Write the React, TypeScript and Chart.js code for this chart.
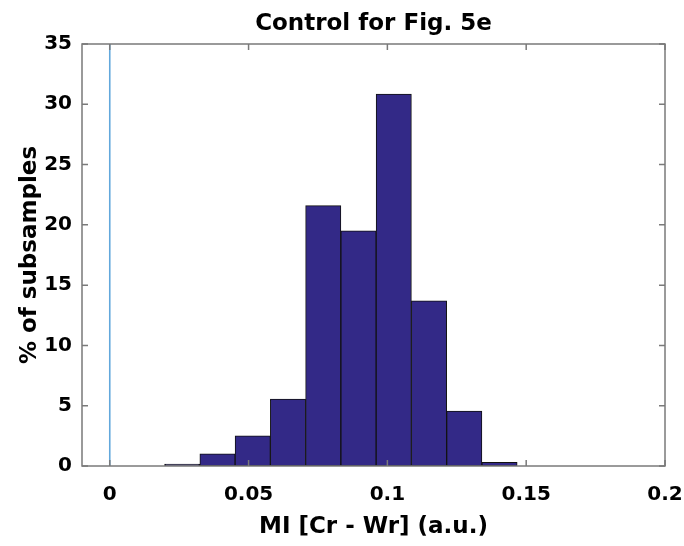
import React, { useEffect, useRef } from "react";
import { Chart, registerables } from "chart.js";

Chart.register(...registerables);

// Histogram bin centres (MI values) and % of subsamples
const binCenters = [0.0261, 0.0388, 0.0515, 0.0642, 0.0769, 0.0896, 0.1023, 0.115, 0.1277, 0.1404];
const percentValues = [0.15, 1.0, 2.5, 5.55, 21.6, 19.5, 30.85, 13.7, 4.56, 0.3];
const xTickValues = [0, 0.05, 0.1, 0.15, 0.2];
const xTickLabels = ["0", "0.05", "0.1", "0.15", "0.2"];
const refLineX = [0, 0];
const refLineY = [0, 35];

const TITLE = "Control for Fig. 5e";
const X_TITLE = "MI [Cr - Wr] (a.u.)";
const Y_TITLE = "% of subsamples";
const FONT = "'DejaVu Sans', 'Liberation Sans', Arial, sans-serif";

const boxPlugin = {
  id: "matlabBox",
  afterDatasetsDraw(chart: any) {
    const { ctx, chartArea } = chart;
    const { left, right, top, bottom } = chartArea;
    const xs = chart.scales.x;
    const ys = chart.scales.y;
    const tl = 6;
    ctx.save();
    ctx.strokeStyle = "#7a7a7a";
    ctx.lineWidth = 1.5;
    ctx.beginPath();
    xs.ticks.forEach((t: any) => {
      const px = xs.getPixelForValue(t.value);
      ctx.moveTo(px, bottom);
      ctx.lineTo(px, bottom - tl);
      ctx.moveTo(px, top);
      ctx.lineTo(px, top + tl);
    });
    ys.ticks.forEach((t: any) => {
      const py = ys.getPixelForValue(t.value);
      ctx.moveTo(left, py);
      ctx.lineTo(left + tl, py);
      ctx.moveTo(right, py);
      ctx.lineTo(right - tl, py);
    });
    ctx.stroke();
    ctx.strokeRect(left, top, right - left, bottom - top);
    // plot title, centred over the axes box
    ctx.fillStyle = "#000";
    ctx.font = `bold 23px ${FONT}`;
    ctx.textAlign = "center";
    ctx.textBaseline = "middle";
    ctx.fillText(TITLE, (left + right) / 2, 24);
    ctx.restore();
  },
};

export default function App() {
  const ref = useRef<HTMLCanvasElement>(null);

  useEffect(() => {
    if (!ref.current) return;
    Chart.defaults.font.family = FONT;
    Chart.defaults.color = "#000";
    const chart = new Chart(ref.current, {
      type: "bar",
      data: {
        datasets: [
          {
            type: "bar",
            data: binCenters.map((x, i) => ({ x, y: percentValues[i] })),
            backgroundColor: "#332987",
            borderColor: "#111111",
            borderWidth: 1,
            borderSkipped: false,
            categoryPercentage: 1,
            barPercentage: 1,
          } as any,
          {
            type: "line",
            data: refLineX.map((x, i) => ({ x, y: refLineY[i] })),
            borderColor: "#62a8dc",
            borderWidth: 1.6,
            pointRadius: 0,
            fill: false,
          } as any,
        ],
      },
      options: {
        responsive: false,
        animation: false,
        devicePixelRatio: 1,
        layout: { padding: { left: 0, right: 19, top: 44, bottom: 0 } },
        plugins: {
          legend: { display: false },
          tooltip: { enabled: false },
          title: { display: false },
        },
        scales: {
          x: {
            type: "linear",
            min: -0.01,
            max: 0.2,
            offset: false,
            grid: { display: false, drawTicks: false },
            border: { display: false },
            afterBuildTicks: (s: any) => {
              s.ticks = xTickValues.map((v) => ({ value: v }));
            },
            afterFit: (s: any) => {
              s.height = 80;
              s.paddingLeft = 0;
              s.paddingRight = 0;
            },
            ticks: {
              padding: 17,
              maxRotation: 0,
              autoSkip: false,
              color: "#000",
              font: { family: FONT, size: 20, weight: "bold" },
              callback: (v: any) => {
                const i = xTickValues.indexOf(Number(v));
                return i >= 0 ? xTickLabels[i] : "";
              },
            },
            title: {
              display: true,
              text: X_TITLE,
              color: "#000",
              font: { family: FONT, size: 23, weight: "bold" },
              padding: { top: 0, bottom: 5 },
            },
          },
          y: {
            type: "linear",
            min: 0,
            max: 35,
            grid: { display: false, drawTicks: false },
            border: { display: false },
            afterFit: (s: any) => {
              s.width = 82;
              s.paddingTop = 0;
              s.paddingBottom = 0;
            },
            ticks: {
              stepSize: 5,
              padding: 10,
              color: "#000",
              font: { family: FONT, size: 20, weight: "bold" },
            },
            title: {
              display: true,
              text: Y_TITLE,
              color: "#000",
              font: { family: FONT, size: 23, weight: "bold" },
              padding: { top: 16, bottom: 0 },
            },
          },
        },
      },
      plugins: [boxPlugin],
    });
    return () => chart.destroy();
  }, []);

  return (
    <div style={{ position: "fixed", left: 0, top: 0, width: 684, height: 546, background: "#fff" }}>
      <canvas ref={ref} width={684} height={546} style={{ display: "block" }} />
    </div>
  );
}
